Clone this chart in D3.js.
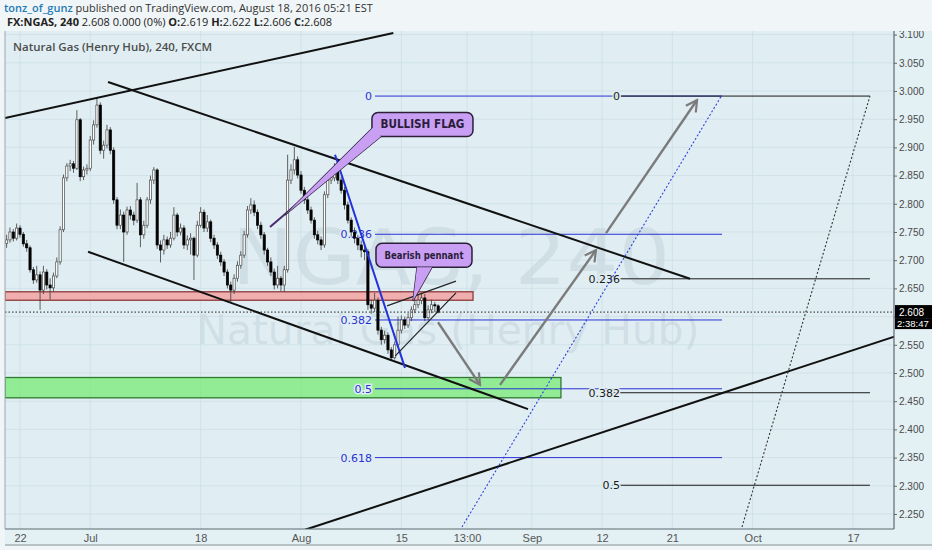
<!DOCTYPE html>
<html>
<head>
<meta charset="utf-8">
<script src="https://cdnjs.cloudflare.com/ajax/libs/d3/7.8.5/d3.min.js"></script>
<style>
body { margin: 0; background: #f0f5f7; }
svg text { font-family: "Open Sans", "DejaVu Sans", sans-serif; }
</style>
</head>
<body>
<div id="chart"></div>
<script>

// ---- data ------------------------------------------------------------
// bars are 8 hour candles, 3 per trading day, first one on Jun 20 16:00
// (trading day 0 is Wed Jun 22 2016)
var firstBarDay = -4 / 3;
var barsPerDay  = 3;
var firstOpen   = 2.730;

var closes = [
  2.736, 2.750, 2.739, 2.757, 2.746, 2.729, 2.722, 2.683, 2.665, 2.674,
  2.647, 2.679, 2.656, 2.651, 2.672, 2.697, 2.754, 2.846, 2.867, 2.871,
  2.863, 2.949, 2.848, 2.860, 2.863, 2.913, 2.940, 2.975, 2.895, 2.904,
  2.931, 2.895, 2.807, 2.762, 2.780, 2.750, 2.789, 2.780, 2.771, 2.807,
  2.745, 2.762, 2.807, 2.842, 2.860, 2.727, 2.718, 2.736, 2.727, 2.739,
  2.780, 2.750, 2.757, 2.727, 2.736, 2.739, 2.709, 2.762, 2.785, 2.757,
  2.768, 2.739, 2.727, 2.709, 2.697, 2.679, 2.656, 2.647, 2.668, 2.691,
  2.709, 2.745, 2.789, 2.798, 2.785, 2.762, 2.745, 2.718, 2.697, 2.679,
  2.656, 2.668, 2.656, 2.683, 2.842, 2.860, 2.878, 2.851, 2.824, 2.807,
  2.789, 2.771, 2.745, 2.736, 2.727, 2.816, 2.842, 2.846, 2.860, 2.842,
  2.824, 2.798, 2.771, 2.750, 2.739, 2.727, 2.718, 2.715, 2.621, 2.615,
  2.629, 2.576, 2.559, 2.567, 2.541, 2.527, 2.550, 2.576, 2.594, 2.585,
  2.598, 2.612, 2.621, 2.629, 2.633, 2.598, 2.612, 2.621, 2.619, 2.608 ];

var highs = [
  2.745, 2.758, 2.755, 2.765, 2.762, 2.750, 2.736, 2.726, 2.688, 2.690,
  2.680, 2.690, 2.684, 2.668, 2.678, 2.705, 2.760, 2.852, 2.872, 2.878,
  2.876, 2.966, 2.952, 2.866, 2.870, 2.920, 2.948, 2.989, 2.980, 2.912,
  2.940, 2.936, 2.900, 2.812, 2.790, 2.786, 2.795, 2.796, 2.786, 2.837,
  2.812, 2.770, 2.812, 2.850, 2.865, 2.863, 2.735, 2.745, 2.742, 2.750,
  2.794, 2.784, 2.765, 2.762, 2.744, 2.748, 2.742, 2.770, 2.794, 2.790,
  2.780, 2.772, 2.745, 2.732, 2.715, 2.702, 2.684, 2.662, 2.675, 2.698,
  2.716, 2.752, 2.796, 2.810, 2.806, 2.790, 2.768, 2.750, 2.722, 2.705,
  2.685, 2.690, 2.672, 2.690, 2.887, 2.870, 2.901, 2.884, 2.858, 2.830,
  2.812, 2.795, 2.776, 2.752, 2.742, 2.822, 2.848, 2.856, 2.872, 2.865,
  2.848, 2.830, 2.804, 2.776, 2.758, 2.745, 2.735, 2.728, 2.720, 2.630,
  2.642, 2.634, 2.582, 2.575, 2.572, 2.546, 2.556, 2.600, 2.602, 2.600,
  2.606, 2.618, 2.630, 2.640, 2.642, 2.640, 2.620, 2.630, 2.626, 2.622 ];

var lows = [
  2.722, 2.731, 2.733, 2.735, 2.740, 2.724, 2.715, 2.678, 2.658, 2.660,
  2.612, 2.640, 2.648, 2.630, 2.645, 2.668, 2.692, 2.750, 2.840, 2.858,
  2.855, 2.860, 2.840, 2.842, 2.852, 2.858, 2.905, 2.935, 2.888, 2.880,
  2.898, 2.888, 2.800, 2.755, 2.755, 2.697, 2.745, 2.772, 2.762, 2.766,
  2.723, 2.738, 2.757, 2.800, 2.835, 2.720, 2.696, 2.710, 2.720, 2.722,
  2.735, 2.742, 2.744, 2.720, 2.718, 2.710, 2.665, 2.705, 2.758, 2.750,
  2.750, 2.732, 2.720, 2.702, 2.690, 2.672, 2.650, 2.624, 2.640, 2.662,
  2.685, 2.704, 2.740, 2.782, 2.778, 2.755, 2.738, 2.710, 2.690, 2.672,
  2.648, 2.650, 2.645, 2.644, 2.678, 2.835, 2.852, 2.845, 2.818, 2.800,
  2.782, 2.765, 2.738, 2.728, 2.718, 2.722, 2.810, 2.835, 2.840, 2.835,
  2.818, 2.790, 2.765, 2.742, 2.730, 2.718, 2.705, 2.700, 2.612, 2.605,
  2.608, 2.568, 2.550, 2.552, 2.534, 2.523, 2.524, 2.545, 2.570, 2.578,
  2.580, 2.592, 2.606, 2.615, 2.622, 2.592, 2.594, 2.606, 2.608, 2.606 ];

// axis ticks
var priceTicks = [2.25, 2.30, 2.35, 2.40, 2.45, 2.50, 2.55, 2.60, 2.65, 2.70,
                  2.75, 2.80, 2.85, 2.90, 2.95, 3.00, 3.05, 3.10];
var dateTickDays   = [0, 7, 18, 28, 38, 44.54, 51, 58, 65, 73, 83];
var dateTickLabels = ["22", "Jul", "18", "Aug", "15", "13:00", "Sep", "12", "21", "Oct", "17"];

var lastPrice = 2.608;
var countdown = "2:38:47";

// drawings, as [trading day, price]
var resistUp      = [[-1.5, 2.952], [37.2, 3.103]];
var channelTop    = [[8.77, 3.016], [66.76, 2.667]];
var channelBottom = [[6.78, 2.715], [50.62, 2.436]];
var supportUp     = [[28.40, 2.222], [87.2, 2.565]];
var blueDrop      = [[31.39, 2.887], [38.36, 2.509]];
var blueDotted    = [[44.04, 2.227], [69.95, 2.993]];
var blackDotted   = [[71.94, 2.227], [84.69, 2.991]];
var pennantTop    = [[36.57, 2.619], [43.44, 2.663]];
var pennantBottom = [[37.37, 2.530], [43.44, 2.642]];
var flagPole      = [[24.91, 2.759], [30.90, 2.850]];
var arrows = [
  [[41.65, 2.590], [45.84, 2.479]],
  [[47.83, 2.479], [57.39, 2.718]],
  [[58.39, 2.748], [67.46, 2.984]] ];

var redZone   = {d0: -1.5, d1: 45.14, p0: 2.629, p1: 2.644};
var greenZone = {d0: -1.5, d1: 53.90, p0: 2.456, p1: 2.492};

// fibonacci retracements
var blueFibLevels  = ["0", "0.236", "0.382", "0.5", "0.618"];
var blueFibPrices  = [2.991, 2.746, 2.594, 2.472, 2.350];
var blueFibDays    = [35.37, 69.95];
var blackFibLevels = ["0", "0.236", "0.382", "0.5"];
var blackFibPrices = [2.991, 2.667, 2.465, 2.301];
var blackFibDays   = [59.0, 84.69];

// callouts: box top-left and pointer tip
var calloutText   = ["BULLISH FLAG", "Bearish pennant"];
var calloutAnchor = [[35.07, 2.962], [35.47, 2.730]];
var calloutTip    = [[26.40, 2.780], [39.16, 2.628]];


// ---- layout ----------------------------------------------------------
var W = 932, H = 550;
var pane = {left: 5, right: 894, top: 31, bottom: 529};

var x = d3.scaleLinear().domain([0, 83]).range([20, 853]);
var y = d3.scaleLinear().domain([2.25, 3.0]).range([514, 91]);

var svg = d3.select("#chart").append("svg")
    .attr("width", W)
    .attr("height", H);

var defs = svg.append("defs");
defs.append("clipPath").attr("id", "clipPane")
  .append("rect")
    .attr("x", pane.left).attr("y", pane.top)
    .attr("width", pane.right - pane.left).attr("height", pane.bottom - pane.top);
defs.append("clipPath").attr("id", "clipAxis")
  .append("rect")
    .attr("x", pane.right).attr("y", pane.top)
    .attr("width", W - pane.right).attr("height", pane.bottom - pane.top);

defs.append("marker")
    .attr("id", "arrowGray")
    .attr("viewBox", "0 0 14 14")
    .attr("refX", 12).attr("refY", 7)
    .attr("markerWidth", 14).attr("markerHeight", 14)
    .attr("markerUnits", "userSpaceOnUse")
    .attr("orient", "auto")
  .append("path")
    .attr("d", "M1,1 L12,7 L1,13")
    .attr("fill", "none")
    .attr("stroke", "#7b7b7b")
    .attr("stroke-width", 2.2);

// 1. backgrounds
svg.append("rect").attr("width", W).attr("height", H).attr("fill", "#f0f5f7");
svg.append("rect")
    .attr("x", pane.left).attr("y", pane.top)
    .attr("width", W - pane.left).attr("height", pane.bottom - pane.top + 15)
    .attr("fill", "#e3f0f4");
svg.append("rect")
    .attr("x", pane.left).attr("y", pane.top)
    .attr("width", pane.right - pane.left).attr("height", pane.bottom - pane.top)
    .attr("fill", "#e0eef3");

// 2. grid
var grid = svg.append("g").attr("clip-path", "url(#clipPane)");
grid.selectAll("line.h").data(priceTicks).enter().append("line")
    .attr("x1", pane.left).attr("x2", pane.right)
    .attr("y1", function(d) { return y(d); })
    .attr("y2", function(d) { return y(d); })
    .attr("stroke", "#d0e1e8").attr("stroke-width", 1);
grid.selectAll("line.v").data(dateTickDays).enter().append("line")
    .attr("y1", pane.top).attr("y2", pane.bottom)
    .attr("x1", function(d) { return x(d); })
    .attr("x2", function(d) { return x(d); })
    .attr("stroke", "#d0e1e8").attr("stroke-width", 1);

var plot = svg.append("g").attr("clip-path", "url(#clipPane)");

// 3. watermark
plot.append("text")
    .attr("x", 451).attr("y", 284)
    .attr("text-anchor", "middle")
    .attr("font-size", 76)
    .attr("textLength", 438)
    .attr("lengthAdjust", "spacingAndGlyphs")
    .style("font-family", "'DejaVu Sans', sans-serif")
    .attr("fill", "#c3d3da").attr("fill-opacity", 0.55)
    .text("NGAS, 240");
plot.append("text")
    .attr("x", 448).attr("y", 344)
    .attr("text-anchor", "middle")
    .attr("font-size", 40)
    .attr("textLength", 503)
    .attr("lengthAdjust", "spacingAndGlyphs")
    .style("font-family", "'DejaVu Sans', sans-serif")
    .attr("fill", "#c3d3da").attr("fill-opacity", 0.55)
    .text("Natural Gas (Henry Hub)");

// 4. zones
function zone(z, fill, stroke) {
    plot.append("rect")
        .attr("x", x(z.d0)).attr("y", y(z.p1))
        .attr("width", x(z.d1) - x(z.d0))
        .attr("height", y(z.p0) - y(z.p1))
        .attr("fill", fill).attr("fill-opacity", 0.85)
        .attr("stroke", stroke).attr("stroke-width", 1.3);
}
zone(redZone, "#f2a2a2", "#8e3b3b");
zone(greenZone, "#84ea84", "#2e7a2e");

// 5. fib retracements (drawn below the candles)
var lineGen = d3.line()
    .x(function(d) { return x(d[0]); })
    .y(function(d) { return y(d[1]); });

function fib(levels, prices, days, color, labelX) {
    var g = plot.append("g");
    prices.forEach(function(p, i) {
        g.append("line")
            .attr("x1", x(days[0])).attr("x2", x(days[1]))
            .attr("y1", y(p)).attr("y2", y(p))
            .attr("stroke", color).attr("stroke-width", 1);
        g.append("text")
            .attr("x", labelX).attr("y", y(p) + 4)
            .attr("text-anchor", "end")
            .attr("font-size", 11)
            .style("font-family", "'DejaVu Sans', sans-serif")
            .attr("fill", color)
            .attr("stroke", "#e0eef3").attr("stroke-width", 3)
            .attr("paint-order", "stroke")
            .text(levels[i]);
    });
}
fib(blueFibLevels, blueFibPrices, blueFibDays, "#2a32d4", 372);

// 6. candles
var bars = closes.map(function(c, i) {
    return {
        day:  firstBarDay + i / barsPerDay,
        open: i === 0 ? firstOpen : closes[i - 1],
        high: highs[i],
        low:  lows[i],
        close: c
    };
});

var candles = plot.append("g");
candles.selectAll("line.wick").data(bars).enter().append("line")
    .attr("x1", function(d) { return x(d.day); })
    .attr("x2", function(d) { return x(d.day); })
    .attr("y1", function(d) { return y(d.high); })
    .attr("y2", function(d) { return y(d.low); })
    .attr("stroke", "#3a3a3a").attr("stroke-width", 0.8);
candles.selectAll("rect.body").data(bars).enter().append("rect")
    .attr("x", function(d) { return x(d.day) - 1.1; })
    .attr("width", 2.2)
    .attr("y", function(d) { return y(Math.max(d.open, d.close)); })
    .attr("height", function(d) { return Math.max(1, Math.abs(y(d.open) - y(d.close))); })
    .attr("fill", function(d) { return d.close >= d.open ? "#ffffff" : "#000000"; })
    .attr("stroke", function(d) { return d.close >= d.open ? "#4a4a4a" : "#000000"; })
    .attr("stroke-width", 0.7);

// current price dotted line
plot.append("line")
    .attr("x1", pane.left).attr("x2", pane.right)
    .attr("y1", y(lastPrice)).attr("y2", y(lastPrice))
    .attr("stroke", "#222").attr("stroke-width", 1)
    .attr("stroke-dasharray", "1.5,2");

// 7. black fib and trend lines
fib(blackFibLevels, blackFibPrices, blackFibDays, "#1a1a1a", 620);

function trend(pts, color, width, dash) {
    var p = plot.append("path")
        .datum(pts)
        .attr("d", lineGen)
        .attr("fill", "none")
        .attr("stroke", color)
        .attr("stroke-width", width);
    if(dash) p.attr("stroke-dasharray", dash);
    return p;
}

trend(resistUp,      "#111", 2);
trend(channelTop,    "#111", 2);
trend(channelBottom, "#111", 2);
trend(supportUp,     "#111", 2);
trend(blueDrop,      "#2233dd", 2);
trend(blueDotted,    "#3340e0", 1.1, "2,2");
trend(blackDotted,   "#333", 1.1, "2,2");
trend(pennantTop,    "#222", 1.2);
trend(pennantBottom, "#222", 1.2);

arrows.forEach(function(a) {
    trend(a, "#7b7b7b", 2.4).attr("marker-end", "url(#arrowGray)");
});

// 8. callouts
var calloutSize  = [[101, 24], [96, 24]];
var calloutTextW = [84, 79];
var calloutBase  = [[[1, 15], [9, 24]], [[41, 24], [56, 24]]];

calloutText.forEach(function(t, i) {
    var bx = x(calloutAnchor[i][0]), by = y(calloutAnchor[i][1]);
    var tx = x(calloutTip[i][0]),    ty = y(calloutTip[i][1]);
    var b = calloutBase[i];
    var tri = [[bx + b[0][0], by + b[0][1]], [bx + b[1][0], by + b[1][1]], [tx, ty]];
    var g = svg.append("g");
    g.append("polygon")
        .attr("points", tri.join(" "))
        .attr("fill", "#c99ff3").attr("stroke", "#2b2038").attr("stroke-width", 1.3);
    g.append("rect")
        .attr("x", bx).attr("y", by)
        .attr("width", calloutSize[i][0]).attr("height", calloutSize[i][1])
        .attr("rx", 6)
        .attr("fill", "#c99ff3").attr("stroke", "#2b2038").attr("stroke-width", 1.5);
    g.append("polygon")
        .attr("points", tri.join(" "))
        .attr("fill", "#c99ff3");
    g.append("text")
        .attr("x", bx + calloutSize[i][0] / 2)
        .attr("y", by + calloutSize[i][1] / 2 + 4)
        .attr("text-anchor", "middle")
        .attr("font-size", i === 0 ? 12 : 10.5)
        .attr("font-weight", "bold")
        .attr("textLength", calloutTextW[i])
        .attr("lengthAdjust", "spacingAndGlyphs")
        .style("font-family", "'DejaVu Sans', sans-serif")
        .attr("fill", "#2a1d3a")
        .text(t);
});
// flag pole on top of the pointer
trend(flagPole, "#4b2a6b", 2);

// 9. axes
svg.append("line")
    .attr("x1", pane.right).attr("x2", pane.right)
    .attr("y1", pane.top).attr("y2", pane.bottom)
    .attr("stroke", "#5d6a70").attr("stroke-width", 1.2);
svg.append("line")
    .attr("x1", pane.left).attr("x2", pane.right)
    .attr("y1", pane.bottom).attr("y2", pane.bottom)
    .attr("stroke", "#5d6a70").attr("stroke-width", 1.2);
svg.append("line")
    .attr("x1", pane.left).attr("x2", pane.left)
    .attr("y1", pane.top).attr("y2", pane.bottom)
    .attr("stroke", "#9aa8ae").attr("stroke-width", 1);
svg.append("line")
    .attr("x1", pane.left).attr("x2", W)
    .attr("y1", 545).attr("y2", 545)
    .attr("stroke", "#b8c2c6").attr("stroke-width", 2);

// the clip sits on an outer group so that it is not shifted by the axis translate
var yAxis = svg.append("g")
    .attr("clip-path", "url(#clipAxis)")
  .append("g")
    .attr("transform", "translate(" + pane.right + ",0)")
    .call(d3.axisRight(y).tickValues(priceTicks).tickFormat(d3.format(".3f")).tickSize(3).tickPadding(2));
yAxis.select(".domain").remove();
yAxis.selectAll("line").attr("stroke", "#5d6a70");
yAxis.selectAll("text")
    .attr("fill", "#4a4a4a")
    .style("font-family", "'Liberation Sans', Arial, sans-serif")
    .attr("font-size", 10);

var xAxis = svg.append("g")
    .attr("transform", "translate(0," + pane.bottom + ")")
    .call(d3.axisBottom(x).tickValues(dateTickDays)
        .tickFormat(function(d, i) { return dateTickLabels[i]; })
        .tickSize(0).tickPadding(5));
xAxis.select(".domain").remove();
xAxis.selectAll("text")
    .attr("fill", "#555")
    .style("font-family", "'Liberation Sans Narrow', 'Liberation Sans', sans-serif")
    .attr("font-size", 11);

// last price + countdown boxes
svg.append("rect")
    .attr("x", pane.right + 1).attr("y", y(lastPrice) - 7)
    .attr("width", W - pane.right).attr("height", 13)
    .attr("fill", "#000");
svg.append("text")
    .attr("x", pane.right + 5).attr("y", y(lastPrice) + 3.5)
    .attr("fill", "#fff").attr("font-size", 10)
    .style("font-family", "'Liberation Sans', Arial, sans-serif")
    .text(d3.format(".3f")(lastPrice));
svg.append("rect")
    .attr("x", pane.right + 1).attr("y", y(lastPrice) + 6)
    .attr("width", W - pane.right).attr("height", 11)
    .attr("fill", "#000");
svg.append("text")
    .attr("x", pane.right + 3).attr("y", y(lastPrice) + 15)
    .attr("fill", "#fff").attr("font-size", 9.5)
    .style("font-family", "'Liberation Sans', Arial, sans-serif")
    .text(countdown);

// 10. header texts
var h1 = svg.append("text").attr("x", 4).attr("y", 12).attr("font-size", 11).attr("fill", "#333");
h1.append("tspan").attr("fill", "#1f7bb6").attr("font-weight", 600).text("tonz_of_gunz");
h1.append("tspan").text(" published on TradingView.com, August 18, 2016 05:21 EST");

var h2 = svg.append("text").attr("x", 7).attr("y", 26).attr("font-size", 11).attr("fill", "#222");
h2.append("tspan").attr("font-weight", "bold").text("FX:NGAS, 240");
h2.append("tspan").text(" 2.608 0.000 (0%) ");
h2.append("tspan").attr("font-weight", "bold").text("O:");
h2.append("tspan").text("2.619 ");
h2.append("tspan").attr("font-weight", "bold").text("H:");
h2.append("tspan").text("2.622 ");
h2.append("tspan").attr("font-weight", "bold").text("L:");
h2.append("tspan").text("2.606 ");
h2.append("tspan").attr("font-weight", "bold").text("C:");
h2.append("tspan").text("2.608");

svg.append("text")
    .attr("x", 13).attr("y", 51)
    .attr("font-size", 11.5)
    .attr("font-weight", 600)
    .attr("fill", "#4d4d4d")
    .text("Natural Gas (Henry Hub), 240, FXCM");

</script>
</body>
</html>
